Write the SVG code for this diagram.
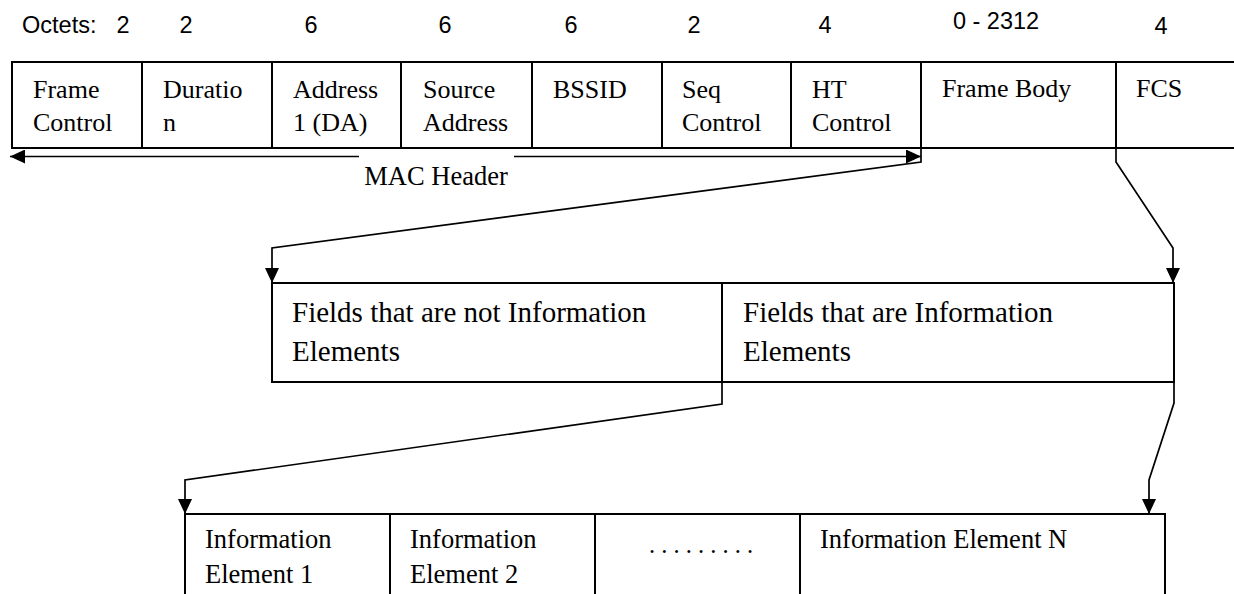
<svg xmlns="http://www.w3.org/2000/svg" width="1234" height="594" viewBox="0 0 1234 594">
  <defs>
    <style>
      .cell { fill: #ffffff; stroke: #000000; stroke-width: 2; }
      .conn { fill: none; stroke: #000000; stroke-width: 1.7; stroke-linecap: butt; stroke-linejoin: miter; }
      .lbl { font-family: "Liberation Serif", "Times New Roman", serif; font-size: 26px; fill: #000000; }
      .bot { font-family: "Liberation Serif", "Times New Roman", serif; font-size: 26.5px; fill: #000000; }
      .dots { font-family: "Liberation Serif", "Times New Roman", serif; font-size: 24.5px; fill: #000000; }
      .mid { font-family: "Liberation Serif", "Times New Roman", serif; font-size: 29px; fill: #000000; }
      .oct { font-family: "Liberation Sans", Arial, sans-serif; font-size: 23.5px; fill: #000000; }
    </style>
    <marker id="arrow" viewBox="0 0 15 14" refX="15" refY="7" markerWidth="15" markerHeight="14" markerUnits="userSpaceOnUse" orient="auto">
      <path d="M0,0 L15,7 L0,14 Z" fill="#000000"/>
    </marker>
  </defs>
  <rect x="0" y="0" width="1234" height="594" fill="#ffffff"/>

  <g id="octets">
    <text class="oct" x="22" y="33">Octets:</text>
    <text class="oct" x="123" y="33" text-anchor="middle">2</text>
    <text class="oct" x="186" y="33" text-anchor="middle">2</text>
    <text class="oct" x="311" y="33" text-anchor="middle">6</text>
    <text class="oct" x="445" y="33" text-anchor="middle">6</text>
    <text class="oct" x="571" y="33" text-anchor="middle">6</text>
    <text class="oct" x="694" y="33" text-anchor="middle">2</text>
    <text class="oct" x="825" y="33" text-anchor="middle">4</text>
    <text class="oct" x="996" y="29" text-anchor="middle">0 - 2312</text>
    <text class="oct" x="1161" y="34" text-anchor="middle">4</text>
  </g>

  <g id="frame-control">
    <rect class="cell" x="12" y="62" width="130" height="86"/>
    <text class="lbl" x="33" y="98">Frame</text>
    <text class="lbl" x="33" y="131">Control</text>
  </g>
  <g id="duration">
    <rect class="cell" x="142" y="62" width="130" height="86"/>
    <text class="lbl" x="163" y="98">Duratio</text>
    <text class="lbl" x="163" y="131">n</text>
  </g>
  <g id="address1">
    <rect class="cell" x="272" y="62" width="129" height="86"/>
    <text class="lbl" x="293" y="98">Address</text>
    <text class="lbl" x="293" y="131">1 (DA)</text>
  </g>
  <g id="source-address">
    <rect class="cell" x="401" y="62" width="131" height="86"/>
    <text class="lbl" x="423" y="98">Source</text>
    <text class="lbl" x="423" y="131">Address</text>
  </g>
  <g id="bssid">
    <rect class="cell" x="532" y="62" width="130" height="86"/>
    <text class="lbl" x="553" y="98">BSSID</text>
  </g>
  <g id="seq-control">
    <rect class="cell" x="662" y="62" width="129" height="86"/>
    <text class="lbl" x="682" y="98">Seq</text>
    <text class="lbl" x="682" y="131">Control</text>
  </g>
  <g id="ht-control">
    <rect class="cell" x="791" y="62" width="130" height="86"/>
    <text class="lbl" x="812" y="98">HT</text>
    <text class="lbl" x="812" y="131">Control</text>
  </g>
  <g id="frame-body">
    <rect class="cell" x="921" y="62" width="195" height="86"/>
    <text class="lbl" x="942" y="97">Frame Body</text>
  </g>
  <g id="fcs">
    <rect class="cell" x="1116" y="62" width="140" height="86"/>
    <text class="lbl" x="1136" y="97">FCS</text>
  </g>

  <g id="mac-header">
    <text class="bot" x="436" y="185" text-anchor="middle">MAC Header</text>
  </g>

  <g id="fields-not-ie">
    <rect class="cell" x="272" y="283" width="450" height="99"/>
    <text class="mid" x="292" y="322">Fields that are not Information</text>
    <text class="mid" x="292" y="361">Elements</text>
  </g>
  <g id="fields-ie">
    <rect class="cell" x="722" y="283" width="452" height="99"/>
    <text class="mid" x="743" y="322">Fields that are Information</text>
    <text class="mid" x="743" y="361">Elements</text>
  </g>

  <g id="ie1">
    <rect class="cell" x="185" y="514" width="205" height="120"/>
    <text class="bot" x="205" y="548">Information</text>
    <text class="bot" x="205" y="583">Element 1</text>
  </g>
  <g id="ie2">
    <rect class="cell" x="390" y="514" width="205" height="120"/>
    <text class="bot" x="410" y="548">Information</text>
    <text class="bot" x="410" y="583">Element 2</text>
  </g>
  <g id="ie-dots">
    <rect class="cell" x="595" y="514" width="205" height="120"/>
    <text class="dots" x="649" y="553">. . . . . . . . .</text>
  </g>
  <g id="ien">
    <rect class="cell" x="800" y="514" width="365" height="120"/>
    <text class="bot" x="820" y="548">Information Element N</text>
  </g>

  <g id="connectors">
    <path class="conn" d="M359,156.5 L10,156.5" marker-end="url(#arrow)"/>
    <path class="conn" d="M514,156.5 L921,156.5" marker-end="url(#arrow)"/>
    <path class="conn" d="M921,148 L921,162 L272,248 L272,283" marker-end="url(#arrow)"/>
    <path class="conn" d="M1116,148 L1116,162 L1173,248 L1173,283" marker-end="url(#arrow)"/>
    <path class="conn" d="M722,382 L722,404 L185,480 L185,514" marker-end="url(#arrow)"/>
    <path class="conn" d="M1174,382 L1174,403 L1149,480 L1149,514" marker-end="url(#arrow)"/>
  </g>
</svg>
